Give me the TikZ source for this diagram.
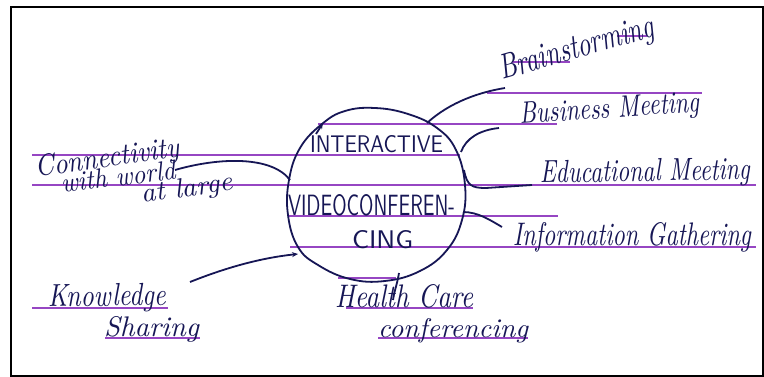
\documentclass[tikz,border=0pt]{standalone}
\usetikzlibrary{arrows.meta}
\definecolor{ink}{RGB}{22,22,85}
\definecolor{ruleclr}{RGB}{150,70,195}
\newcommand{\hwtext}[3]{\resizebox{#1pt}{#2pt}{\itshape #3}}
\newcommand{\captext}[3]{\resizebox{#1pt}{#2pt}{\sffamily #3}}
\begin{document}
\begin{tikzpicture}[x=1pt,y=-1pt,
  ruleline/.style={ruleclr, line width=1.5pt},
  conn/.style={ink, line width=1.8pt},
  hand/.style={inner sep=0pt, outer sep=0pt, text=ink, anchor=base west},
  tipstyle/.style={-{Stealth[length=6pt,width=5pt]}}]
\useasboundingbox (0,0) rectangle (764,377);
\fill[white] (0,0) rectangle (764,377);
\draw[line width=2.4pt] (11,7) -- (763,7) -- (763,376) -- (11,376) -- cycle;
% ruled lines
\draw[ruleline] (487,93) -- (702,93);
\draw[ruleline] (318,124) -- (557,124);
\draw[ruleline] (32,155) -- (460,155);
\draw[ruleline] (32,185) -- (756,185);
\draw[ruleline] (288,216) -- (558,216);
\draw[ruleline] (290,247) -- (756,247);
\draw[ruleline] (338,278) -- (396,278);
\draw[ruleline] (32,308) -- (168,308);
\draw[ruleline] (346,308) -- (473,308);
\draw[ruleline] (105,338) -- (200,338);
\draw[ruleline] (378,338) -- (528,338);
\draw[ruleline] (512,62) -- (570,62);
\draw[ruleline] (617,36) -- (647,36);
% central blob
\draw[conn] plot[smooth cycle, tension=0.7] coordinates {
 (322,124) (345,111) (375,108) (408,114) (437,128) (456,150) (465,185)
 (462,220) (447,250) (420,271) (385,281) (350,279) (318,265) (298,247)
 (288,215) (289,180) (300,148)};
\draw[conn, tipstyle] (316,134) -- (323,123);
% attach points on blob
\coordinate (pBrain) at (427,123);
\coordinate (pBus) at (461,152);
\coordinate (pEdu) at (464,170);
\coordinate (pInfo) at (463,212);
\coordinate (pHealth) at (399,273);
\coordinate (pKnow) at (298,254);
\coordinate (pConn) at (290,180);
% free ends near labels
\coordinate (eBrain) at (505,88);
\coordinate (eBus) at (499,128);
\coordinate (eEdu) at (532,185);
\coordinate (eInfo) at (502,227);
\coordinate (eHealth) at (393,300);
\coordinate (eKnow) at (190,282);
\coordinate (eConn) at (175,170);
% centre text
\node[hand] (tInter) at (310,153) {\captext{133}{17}{INTERACTIVE}};
\node[hand] (tVideo) at (288,215) {\captext{167}{21}{VIDEOCONFEREN-}};
\node[hand] (tCing) at (352,248) {\captext{61}{18}{CING}};
% labels
\node[hand, rotate=16] (tBrain) at (502,80) {\hwtext{160}{24}{Brainstorming}};
\node[hand, rotate=4] (tBus) at (520,124) {\hwtext{180}{21}{Business Meeting}};
\node[hand, rotate=1] (tEdu) at (540,183) {\hwtext{210}{22}{Educational Meeting}};
\node[hand] (tInfo) at (513,245) {\hwtext{238}{23}{Information Gathering}};
\node[hand] (tHealth) at (335,307) {\hwtext{138}{23}{Health Care}};
\node[hand] (tConf) at (378,337) {\hwtext{150}{19}{conferencing}};
\node[hand, rotate=1] (tKnow) at (48,307) {\hwtext{118}{22}{Knowledge}};
\node[hand] (tShar) at (104,337) {\hwtext{95}{20}{Sharing}};
\node[hand, rotate=8] (tConn) at (36,177) {\hwtext{146}{21}{Connectivity}};
\node[hand, rotate=7] (tWith) at (62,193) {\hwtext{115}{19}{with world}};
\node[hand, rotate=8] (tLarge) at (142,203) {\hwtext{92}{19}{at large}};
% connectors
\draw[conn] (pBrain) .. controls (450,102) and (480,92) .. (eBrain);
\draw[conn] (pBus) .. controls (466,138) and (480,130) .. (eBus);
\draw[conn] (pEdu) .. controls (467,186) and (472,188) .. (486,188) -- (eEdu);
\draw[conn] (pInfo) .. controls (478,212) and (490,220) .. (eInfo);
\draw[conn] (pHealth) .. controls (397,285) and (394,292) .. (eHealth);
\draw[conn, tipstyle] (eKnow) .. controls (225,268) and (260,258) .. (pKnow);
\draw[conn] (eConn) .. controls (220,157) and (272,156) .. (pConn);
\end{tikzpicture}
\end{document}
